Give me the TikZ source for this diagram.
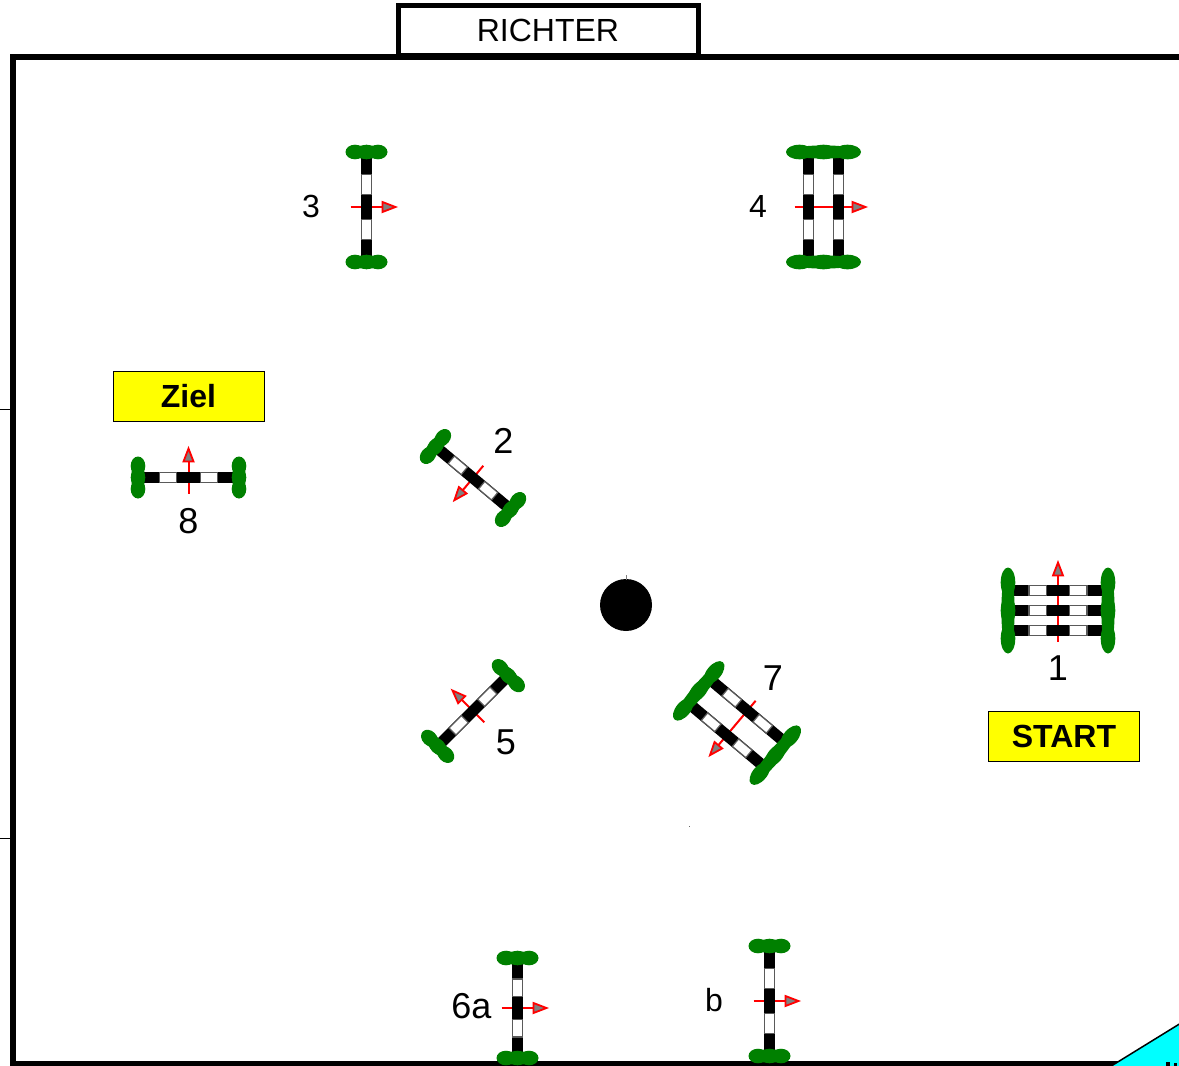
\documentclass[tikz,border=0pt]{standalone}
\usepackage{fontspec}
\setmainfont{Liberation Sans}
\definecolor{hedge}{RGB}{0,128,0}
\definecolor{arrowgray}{RGB}{128,128,128}
\definecolor{barrim}{RGB}{90,90,90}
\definecolor{signyellow}{RGB}{255,255,0}
\definecolor{cornercyan}{RGB}{0,255,255}
\tikzset{
  barwhite/.style={fill=white,draw=barrim,line width=1.2pt},
  runline/.style={draw=red,line width=2pt},
  runhead/.style={draw=red,fill=arrowgray,line width=1.8pt,line join=miter},
  numlabel/.style={inner sep=0pt,font=\fontsize{36}{36}\selectfont},
  smalllabel/.style={inner sep=0pt,font=\fontsize{32}{32}\selectfont},
  signbox/.style={draw=black,line width=1pt,fill=signyellow,minimum width=151pt,minimum height=50.5pt,inner sep=0pt,font=\bfseries\fontsize{32}{32}\selectfont},
  judgebox/.style={draw=black,line width=5pt,fill=white,minimum width=300pt,minimum height=50pt,inner sep=0pt,font=\fontsize{32}{32}\selectfont},
}
% #1 cx, #2 cy, #3 rotation, #4 half length, #5 bar offsets, #6 tail, #7 tip, #8 blob spacing, #9 blob half length
\newcommand{\jumpfence}[9]{%
  \begin{scope}[shift={(#1,#2)},rotate=#3]
    \draw[runline] (0,#6) -- (0,{-#7+12});
    \draw[runhead] (0,{-#7+2}) -- (-5,{-#7+15}) -- (5,{-#7+15}) -- cycle;
    \foreach \off in {#5}{
      \fill[black] ({-#4},{\off-5.6}) rectangle ({#4},{\off+5.6});
      \draw[barwhite] ({-0.63*#4},{\off-4.9}) rectangle ({-0.25*#4},{\off+4.9});
      \draw[barwhite] ({0.25*#4},{\off-4.9}) rectangle ({0.63*#4},{\off+4.9});
    }
    \foreach \side in {-1,1}{
      \fill[hedge] ({\side*(#4+4)},0) ellipse [x radius=6.6pt,y radius={(#8+#9-0.5)*1pt}];
      \foreach \k in {-1,0,1}{
        \fill[hedge] ({\side*(#4+4)},{\k*#8}) ellipse [x radius=7.3pt,y radius=#9pt];
      }
    }
  \end{scope}}
\begin{document}
\begin{tikzpicture}[x=1pt,y=-1pt]
  \useasboundingbox (0,0) rectangle (1179,1066);
  \clip (0,0) rectangle (1179,1066);
  \fill[white] (0,0) rectangle (1179,1066);
  % arena
  \draw[black,line width=5.5pt,line join=miter] (1190,57) -- (13,57) -- (13,1064) -- (1190,1064);
  \draw[black,line width=1pt] (0,409) -- (10,409);
  \draw[black,line width=1pt] (0,838) -- (10,838);
  % corner
  \filldraw[fill=cornercyan,draw=black,line width=1.5pt] (1108,1068) -- (1181,1023) -- (1181,1068) -- cycle;
  \fill[black] (1166,1062) rectangle (1170,1066);
  \fill[black] (1174,1063) rectangle (1177,1066);
  % judge
  \node[judgebox] (richter) at (548,30.5) {RICHTER};
  % signs
  \node[signbox] (ziel) at (188.5,396.5) {Ziel};
  \node[signbox] (start) at (1064,736.5) {START};
  % centre
  \fill[black] (626,605) circle [radius=26pt];
  \draw[arrowgray,line width=1pt] (626,575) -- (626,580);
  \fill[black!60] (688.5,825.5) rectangle (689.5,826.5);
  % jumps
  \jumpfence{366.5}{207}{-90}{51}{0}{16}{31}{11.5}{9.5}
  \jumpfence{823.5}{207}{-90}{51}{-15,15}{29}{44}{24}{13.5}
  \jumpfence{188.5}{477.5}{0}{46.5}{0}{16}{31}{11.5}{9.5}
  \jumpfence{1058}{610.5}{0}{46}{-20,0,20}{31}{50}{28}{15}
  \jumpfence{473}{478}{140}{45}{0}{16}{31}{11.5}{9.5}
  \jumpfence{473}{711}{45}{46}{0}{16}{31}{11.5}{9.5}
  \jumpfence{737}{723}{140}{46}{-16,16}{29}{44}{24}{13.5}
  \jumpfence{517.5}{1008}{-90}{46}{0}{16}{31}{11.5}{9.5}
  \jumpfence{769.5}{1001}{-90}{51}{0}{16}{31}{11.5}{9.5}
  % labels
  \node[smalllabel] (n3) at (311,206) {3};
  \node[smalllabel] (n4) at (758,206) {4};
  \node[numlabel] (n2) at (503.5,441) {2};
  \node[numlabel] (n8) at (188.5,521) {8};
  \node[numlabel] (n1) at (1058,668) {1};
  \node[numlabel] (n7) at (773,678) {7};
  \node[numlabel] (n5) at (506,742) {5};
  \node[numlabel] (n6) at (471.5,1006) {6a};
  \node[smalllabel] (nb) at (714,1000) {b};
\end{tikzpicture}
\end{document}
